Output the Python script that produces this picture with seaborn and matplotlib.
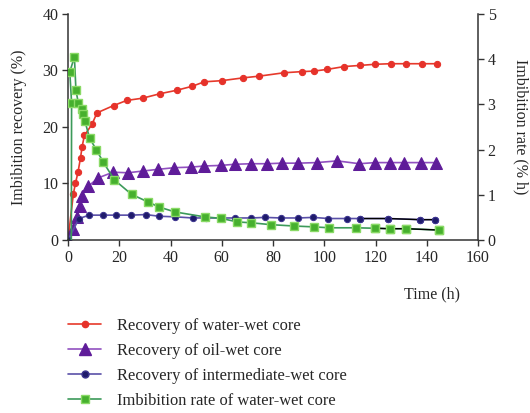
import numpy as np
import pandas as pd
import matplotlib
matplotlib.use("Agg")
import matplotlib.pyplot as plt
import seaborn as sns
from matplotlib.lines import Line2D

# ---- data ----
t_water = [0, 2.1, 2.9, 3.9, 4.9, 5.5, 6.4, 9.4, 11.3, 17.8, 22.9, 29.1, 36, 42.4, 48.4, 53.2,
           60, 68.4, 74.6, 84.3, 91.2, 96.1, 101.2, 107.8, 114, 119.8, 125.9, 131.8, 138.3, 144.1]
rec_water = [0, 8.2, 10, 12, 14.6, 16.5, 18.5, 20.5, 22.5, 23.8, 24.7, 25.1, 25.9, 26.5, 27.2, 28.0,
             28.2, 28.7, 29.0, 29.6, 29.8, 29.9, 30.2, 30.7, 30.9, 31.1, 31.2, 31.2, 31.2, 31.2]

t_oil = [0, 2.1, 3.4, 4.7, 5.3, 7.9, 11.8, 17.6, 23.4, 29.1, 35, 41.5, 48, 53.2, 59.6, 65, 71.6,
         77.5, 83.4, 89.9, 97, 105.1, 113.7, 119.8, 125.6, 131, 137.9, 143.7]
rec_oil = [0, 1.9, 4.1, 6.0, 7.8, 9.5, 11.0, 12.0, 11.9, 12.2, 12.5, 12.8, 12.9, 13.1, 13.2, 13.4, 13.5,
           13.5, 13.6, 13.6, 13.7, 14.0, 13.5, 13.7, 13.7, 13.7, 13.7, 13.7]

t_inter = [0, 4.3, 8.3, 13.7, 18.7, 24.7, 30.3, 35.7, 41.8, 48.7, 53.8, 59.6, 65, 71.6, 76.9, 83,
           89.9, 95.7, 101.6, 108.7, 114.1, 124.9, 137.4, 143.4]
rec_inter = [0, 3.8, 4.4, 4.4, 4.4, 4.4, 4.5, 4.2, 4.1, 3.9, 3.9, 3.9, 3.9, 3.9, 4.0, 3.9,
             3.9, 4.0, 3.8, 3.8, 3.8, 3.8, 3.6, 3.6]

t_rate = [1.3, 1.4, 0.7, 2.5, 3.1, 4.0, 5.3, 5.7, 6.6, 8.4, 11.0, 13.8, 18.1, 24.8, 31.3, 35.5, 41.8,
          53.5, 59.6, 66.1, 71.6, 79.1, 88, 96, 102, 112.4, 119.8, 125.6, 131.8, 144.9]
rate = [0, 3.04, 3.72, 4.05, 3.31, 3.04, 2.9, 2.78, 2.63, 2.26, 2.0, 1.72, 1.33, 1.01, 0.84, 0.73, 0.62,
        0.51, 0.48, 0.40, 0.38, 0.34, 0.31, 0.29, 0.27, 0.27, 0.26, 0.25, 0.25, 0.22]

labels = ["Recovery of water-wet core", "Recovery of oil-wet core",
          "Recovery of intermediate-wet core", "Imbibition rate of water-wet core"]
x_ticks = [0, 20, 40, 60, 80, 100, 120, 140, 160]
left_ticks = [0, 10, 20, 30, 40]
right_ticks = [0, 1, 2, 3, 4, 5]

sns.set_style("ticks")
plt.rcParams['font.family'] = ['Liberation Serif', 'DejaVu Serif']
FS = 11.5
LFS = 11.9

fig = plt.figure(figsize=(5.30, 4.13), dpi=100)
ax = fig.add_axes([68/530, 1-240/413, (478-68)/530, (240-14)/413])
ax2 = ax.twinx()

df_w = pd.DataFrame({"t": t_water, "v": rec_water})
df_o = pd.DataFrame({"t": t_oil, "v": rec_oil})
df_i = pd.DataFrame({"t": t_inter, "v": rec_inter})
df_r = pd.DataFrame({"t": t_rate, "v": rate})

common = dict(x="t", y="v", sort=False, estimator=None, legend=False)

sns.lineplot(data=df_w, ax=ax, color="#e6392b", marker="o", markersize=4.5,
             markerfacecolor="#e6322a", markeredgecolor="#e6322a", linewidth=1.2, **common)
sns.lineplot(data=df_o, ax=ax, color="#9150c0", marker="^", markersize=8,
             markerfacecolor="#5f1c99", markeredgecolor="#5f1c99", linewidth=1.2, **common)
sns.lineplot(data=df_i, ax=ax, color="#5a50a8", marker="o", markersize=4.5,
             markerfacecolor="#1f1b6b", markeredgecolor="#3d3590", linewidth=1.2, **common)
# black tail of intermediate-wet
tail_i = df_i[df_i.t >= 114]
sns.lineplot(data=tail_i, ax=ax, color="black", linewidth=1.0, zorder=2.5, **common)
sns.lineplot(data=tail_i, ax=ax, color="#1f1b6b", marker="o", markersize=4.5, linestyle="none",
             markerfacecolor="#1f1b6b", markeredgecolor="#3d3590", zorder=2.6, **common)

sns.lineplot(data=df_r, ax=ax2, color="#3c9a5a", marker="s", markersize=6,
             markerfacecolor="#46b02e", markeredgecolor="#8ada66", markeredgewidth=1.0,
             linewidth=1.2, markevery=list(range(1, len(t_rate))), **common)
tail_r = df_r[df_r.t >= 119]
sns.lineplot(data=tail_r, ax=ax2, color="black", linewidth=1.0, zorder=2.5, **common)
sns.lineplot(data=tail_r, ax=ax2, color="#46b02e", marker="s", markersize=6, linestyle="none",
             markerfacecolor="#46b02e", markeredgecolor="#8ada66", markeredgewidth=1.0,
             zorder=2.6, **common)

ax.set_xlim(0, 160)
ax.set_ylim(0, 40)
ax2.set_ylim(0, 5)
ax.set_xticks(x_ticks)
ax.set_yticks(left_ticks)
ax2.set_yticks(right_ticks)
ax.set_xlabel("")
ax.set_ylabel("Imbibition recovery (%)", fontsize=FS, labelpad=11)
ax2.set_ylabel("Imbibition rate (% h)", fontsize=FS, rotation=270, labelpad=24)

for a in (ax, ax2):
    a.spines["top"].set_visible(False)
    for s in ("left", "bottom", "right"):
        a.spines[s].set_linewidth(1.1)
        a.spines[s].set_color("#333333")
    a.tick_params(labelsize=FS, length=4, width=1.0, color="#333333", direction="out", pad=3)
ax.spines["right"].set_visible(False)
ax2.spines["left"].set_visible(False)
ax2.spines["bottom"].set_visible(False)

fig.text(432/530, 1-294/413, "Time (h)", fontsize=FS, ha="center", va="center")

handles = [
    Line2D([], [], color="#e6392b", marker="o", markersize=4.5, markerfacecolor="#e6322a",
           markeredgecolor="#e6322a", linewidth=1.2),
    Line2D([], [], color="#9150c0", marker="^", markersize=8, markerfacecolor="#5f1c99",
           markeredgecolor="#5f1c99", linewidth=1.2),
    Line2D([], [], color="#5a50a8", marker="o", markersize=5, markerfacecolor="#1f1b6b",
           markeredgecolor="#3d3590", linewidth=1.2),
    Line2D([], [], color="#3c9a5a", marker="s", markersize=6, markerfacecolor="#46b02e",
           markeredgecolor="#8ada66", linewidth=1.2),
]
fig.legend(handles, labels, loc="upper left", bbox_to_anchor=(68/530, 1-318/413),
           frameon=False, fontsize=LFS, handlelength=2.0, handletextpad=0.95,
           labelspacing=0.55, borderaxespad=0, borderpad=0)

fig.savefig("out.png", dpi=100)
